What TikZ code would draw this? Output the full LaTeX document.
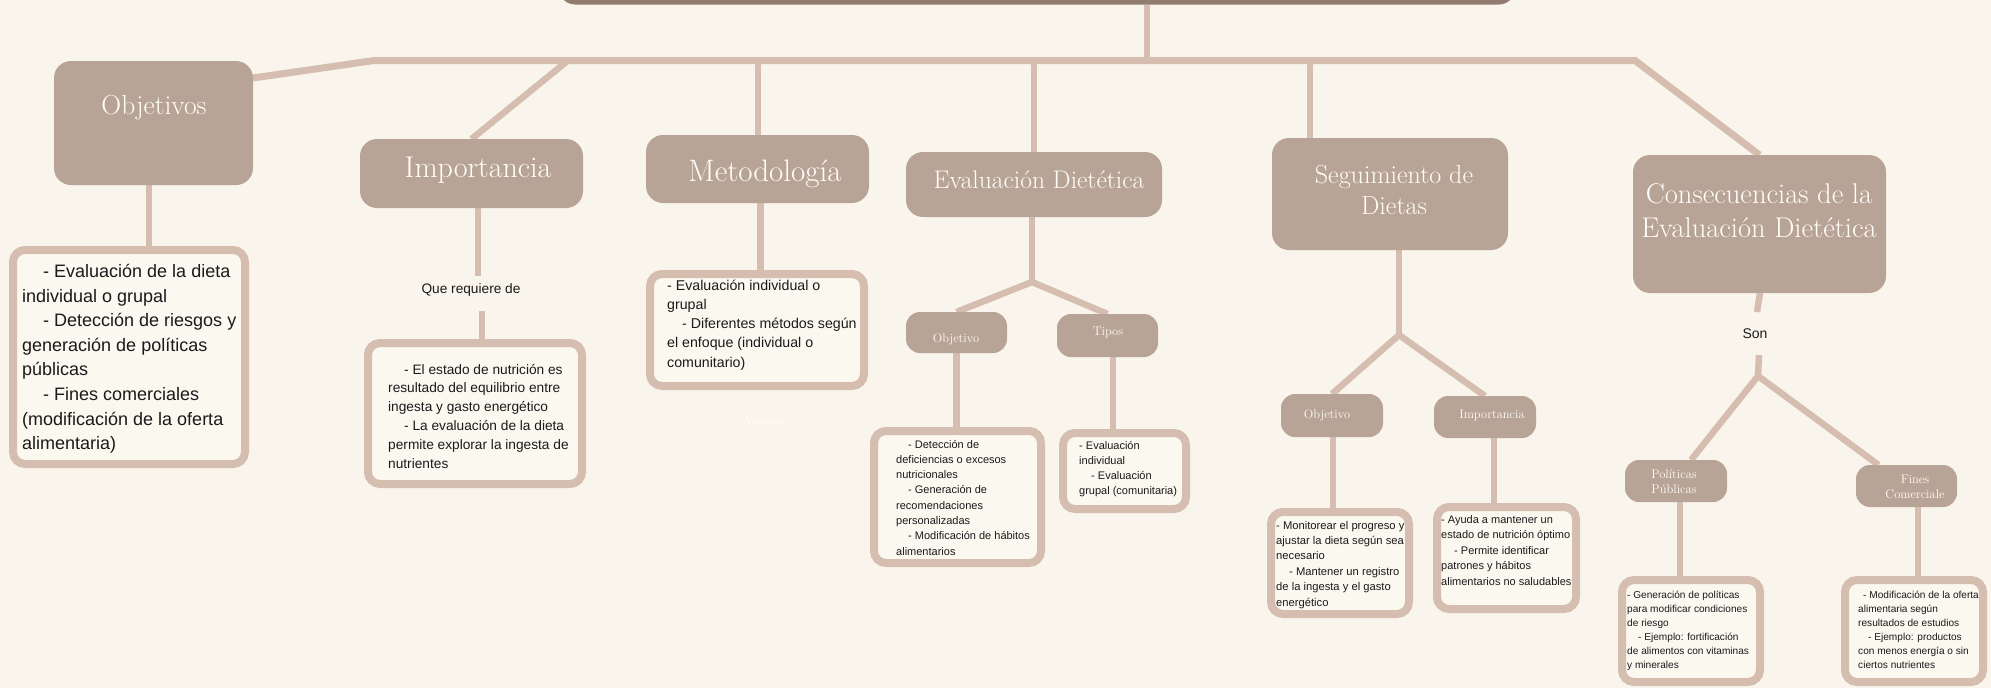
\documentclass[tikz,border=0pt]{standalone}
\usepackage{fontspec}
\newfontfamily\bodyfont{Liberation Sans}
\usetikzlibrary{calc,backgrounds}

\definecolor{paper}{HTML}{F9F5EC}
\definecolor{cardfill}{HTML}{FBF8F0}
\definecolor{hubfill}{HTML}{B8A397}
\definecolor{rootfill}{HTML}{927C70}
\definecolor{linkc}{HTML}{D5BDB0}
\definecolor{titlec}{HTML}{FFFDF8}
\definecolor{inkc}{HTML}{1A1A1A}

% text block whose reference point is the baseline of its first line
\newcommand{\txtblock}[4]{\parbox[t]{#1}{\fontsize{#2}{#3}\selectfont\raggedright #4}}

\begin{document}
\begin{tikzpicture}[x=1pt,y=-1pt,
  hub/.style={fill=hubfill, draw=none, rounded corners=17pt, inner sep=0pt, outer sep=0pt},
  chip/.style={fill=hubfill, draw=none, rounded corners=14pt, inner sep=0pt, outer sep=0pt},
  card/.style={fill=cardfill, draw=linkc, line width=8pt, rounded corners=12pt, inner sep=0pt, outer sep=0pt},
  link/.style={draw=linkc, line width=6.5pt},
  heading/.style={anchor=base, inner sep=0pt, text=titlec},
  body/.style={anchor=base west, inner sep=0pt, text=inkc, font=\bodyfont},
]
\useasboundingbox (0,0) rectangle (1991,688);

% ---------- boxes ----------
\begin{scope}
  \clip (0,0) rectangle (1991,688);
  \node[fill=rootfill, rounded corners=16pt, inner sep=0pt, outer sep=0pt,
        minimum width=956pt, minimum height=60pt] (root) at (1037,-25.5) {};
\end{scope}

\node[hub, minimum width=199pt, minimum height=124pt] (obj)  at (153.5,123) {};
\node[hub, minimum width=223pt, minimum height=69pt]  (imp)  at (471.5,173.5) {};
\node[hub, minimum width=223pt, minimum height=68pt]  (met)  at (757.5,169) {};
\node[hub, minimum width=256pt, minimum height=65pt]  (ed)   at (1034,184.5) {};
\node[hub, minimum width=236pt, minimum height=112pt] (sg)   at (1390,194) {};
\node[hub, minimum width=253pt, minimum height=138pt] (cons) at (1759.5,224) {};

\node[chip, minimum width=101pt, minimum height=41pt] (edObj)   at (956.5,332.5) {};
\node[chip, minimum width=101pt, minimum height=43pt] (edTip)   at (1107.5,335.5) {};
\node[chip, minimum width=102pt, minimum height=43pt] (sgObj)   at (1332,415.5) {};
\node[chip, minimum width=102pt, minimum height=42pt] (sgImp)   at (1485,417) {};
\node[chip, minimum width=102pt, minimum height=42pt] (polChip) at (1676,481) {};
\node[chip, minimum width=101pt, minimum height=42pt] (finChip) at (1906.5,486) {};

\node[card, minimum width=232pt, minimum height=214pt] (cObj)   at (129,357) {};
\node[card, minimum width=214pt, minimum height=141pt] (cImp)   at (475,413.5) {};
\node[card, minimum width=214pt, minimum height=112pt] (cMet)   at (757,330) {};
\node[card, minimum width=167pt, minimum height=132pt] (cEdObj) at (957.5,497) {};
\node[card, minimum width=123pt, minimum height=76pt]  (cEdTip) at (1124.5,471) {};
\node[card, minimum width=138pt, minimum height=102pt] (cSgObj) at (1340,563) {};
\node[card, minimum width=139pt, minimum height=102pt] (cSgImp) at (1506.5,558) {};
\node[card, minimum width=138pt, minimum height=102pt] (polCard) at (1691,631) {};
\node[card, minimum width=138pt, minimum height=102pt] (finCard) at (1914,631) {};

% ---------- headings ----------
\node[heading, font=\fontsize{27.5}{32}\selectfont] (tObj) at (154,114) {Objetivos};
\node[heading, font=\fontsize{30}{34}\selectfont] (tImp) at (478,177) {Importancia};
\node[heading, font=\fontsize{31}{35}\selectfont] (tMet) at (765,181) {Metodología};
\node[heading, font=\fontsize{25.5}{30}\selectfont] (tEd) at (1039,188) {Evaluación Dietética};
\node[heading] (tSg) at (1394,183)
  {\txtblock{220pt}{26pt}{31pt}{\centering Seguimiento de\\Dietas}};
\node[heading] (tCons) at (1759,203)
  {\txtblock{280pt}{28.5pt}{34pt}{\centering Consecuencias de la\\Evaluación Dietética}};

\node[heading, font=\fontsize{12.5}{15}\selectfont] (tEdObj) at (956,342) {Objetivo};
\node[heading, font=\fontsize{12.5}{15}\selectfont] (tEdTip) at (1108,335) {Tipos};
\node[heading, font=\fontsize{12.5}{15}\selectfont] (tSgObj) at (1327,418) {Objetivo};
\node[heading, font=\fontsize{12.5}{15}\selectfont] (tSgImp) at (1492,418) {Importancia};
\node[heading] (tPol) at (1674,478)
  {\txtblock{90pt}{12.5pt}{15pt}{\centering Políticas\\Públicas}};
\node[heading] (tFin) at (1915,483)
  {\txtblock{90pt}{12.5pt}{15pt}{\centering Fines\\Comerciale}};
\node[heading, font=\fontsize{12.5}{15}\selectfont] (tVar) at (765,424) {Variada};

% ---------- connector labels ----------
\node[body, anchor=base, font=\bodyfont\fontsize{13.7}{16}\selectfont] (qrd) at (471,293) {Que requiere de};
\node[body, anchor=base, font=\bodyfont\fontsize{14}{16}\selectfont] (son) at (1755,338.5) {Son};

% ---------- card texts ----------
\node[body] (xObj) at (22,277.5) {\txtblock{400pt}{18pt}{24.6pt}{%
  \hspace*{21pt}- Evaluación de la dieta\\
  individual o grupal\\
  \hspace*{21pt}- Detección de riesgos y\\
  generación de políticas\\
  públicas\\
  \hspace*{21pt}- Fines comerciales\\
  (modificación de la oferta\\
  alimentaria)}};

\node[body] (xImp) at (388,374) {\txtblock{400pt}{13.7pt}{18.8pt}{%
  \hspace*{16pt}- El estado de nutrición es\\
  resultado del equilibrio entre\\
  ingesta y gasto energético\\
  \hspace*{16pt}- La evaluación de la dieta\\
  permite explorar la ingesta de\\
  nutrientes}};

\node[body] (xMet) at (667,290) {\txtblock{400pt}{14.2pt}{19.3pt}{%
  - Evaluación individual o\\
  grupal\\
  \hspace*{15pt}- Diferentes métodos según\\
  el enfoque (individual o\\
  comunitario)}};

\node[body] (xEdObj) at (896,448) {\txtblock{400pt}{11pt}{15.3pt}{%
  \hspace*{12pt}- Detección de\\
  deficiencias o excesos\\
  nutricionales\\
  \hspace*{12pt}- Generación de\\
  recomendaciones\\
  personalizadas\\
  \hspace*{12pt}- Modificación de hábitos\\
  alimentarios}};

\node[body] (xEdTip) at (1079,449) {\txtblock{400pt}{11pt}{15.3pt}{%
  - Evaluación\\
  individual\\
  \hspace*{12pt}- Evaluación\\
  grupal (comunitaria)}};

\node[body] (xSgObj) at (1276,529) {\txtblock{400pt}{11.2pt}{15.4pt}{%
  - Monitorear el progreso y\\
  ajustar la dieta según sea\\
  necesario\\
  \hspace*{13pt}- Mantener un registro\\
  de la ingesta y el gasto\\
  energético}};

\node[body] (xSgImp) at (1441,523) {\txtblock{400pt}{11pt}{15.6pt}{%
  - Ayuda a mantener un\\
  estado de nutrición óptimo\\
  \hspace*{13pt}- Permite identificar\\
  patrones y hábitos\\
  alimentarios no saludables}};

\node[body] (xPol) at (1627,598.5) {\txtblock{400pt}{10.1pt}{14pt}{%
  - Generación de políticas\\
  para modificar condiciones\\
  de riesgo\\
  \hspace*{11pt}- Ejemplo: fortificación\\
  de alimentos con vitaminas\\
  y minerales}};

\node[body] (xFin) at (1858,598.5) {\txtblock{400pt}{10.1pt}{14pt}{%
  \hspace*{5pt}- Modificación de la oferta\\
  alimentaria según\\
  resultados de estudios\\
  \hspace*{10pt}- Ejemplo: productos\\
  con menos energía o sin\\
  ciertos nutrientes}};

% ---------- connectors (behind the boxes) ----------
\coordinate (barL)   at (374,60.5);
\coordinate (barR)   at (1635,60.5);
\coordinate (bTrunk) at (1147,60.5);
\coordinate (bImp)   at (568,60.5);
\coordinate (bMet)   at (758,60.5);
\coordinate (bEd)    at (1034,60.5);
\coordinate (bSg)    at (1310,60.5);
\coordinate (edJ)    at (1032,282);
\coordinate (sgJ)    at (1399,335);
\coordinate (qrdTop) at (478,276);
\coordinate (qrdBot) at (482,311);
\coordinate (sonTop) at (1757,312);
\coordinate (sonBot) at (1759,355);
\coordinate (csJ)    at (1758,376);

\begin{pgfonlayer}{background}
  \fill[paper] (0,0) rectangle (1991,688);

  \draw[link] (bTrunk |- root.south) -- (bTrunk);
  \draw[link, line width=7pt] ($(obj.north east)+(0,17)$) -- (barL) -- (barR) -- (cons.north);
  \draw[link] (bImp) -- (imp.north);
  \draw[link] (bMet) -- ([xshift=0.5pt]met.north);
  \draw[link] (bEd) -- (ed.north);
  \draw[link] (bSg) -- (bSg |- sg.north);

  \draw[link] ([xshift=-4.5pt]obj.south) -- ([xshift=-4.5pt]obj.south |- cObj.north);

  \draw[link] (qrdTop |- imp.south) -- (qrdTop);
  \draw[link] (qrdBot) -- (qrdBot |- cImp.north);

  \draw[link] ([xshift=3pt]met.south) -- ([xshift=3pt]met.south |- cMet.north);

  \draw[link] (edJ |- ed.south) -- (edJ);
  \draw[link] (edObj.north) -- (edJ) -- (edTip.north);
  \draw[link] (edObj.south) -- (edObj.south |- cEdObj.north);
  \draw[link] ([xshift=5.5pt]edTip.south) -- ([xshift=5.5pt]edTip.south |- cEdTip.north);

  \draw[link] (sgJ |- sg.south) -- (sgJ);
  \draw[link] (sgObj.north) -- (sgJ) -- (sgImp.north);
  \draw[link] ([xshift=1pt]sgObj.south) -- ([xshift=1pt]sgObj.south |- cSgObj.north);
  \draw[link] ([xshift=9pt]sgImp.south) -- ([xshift=9pt]sgImp.south |- cSgImp.north);

  \draw[link] ([xshift=0.5pt]cons.south) -- (sonTop);
  \draw[link] (sonBot) -- (csJ);
  \draw[link] ([xshift=15pt]polChip.north) -- (csJ) -- ([xshift=-28pt]finChip.north);
  \draw[link] ([xshift=4pt]polChip.south) -- ([xshift=4pt]polChip.south |- polCard.north);
  \draw[link] ([xshift=11.5pt]finChip.south) -- ([xshift=11.5pt]finChip.south |- finCard.north);
\end{pgfonlayer}
\end{tikzpicture}
\end{document}
